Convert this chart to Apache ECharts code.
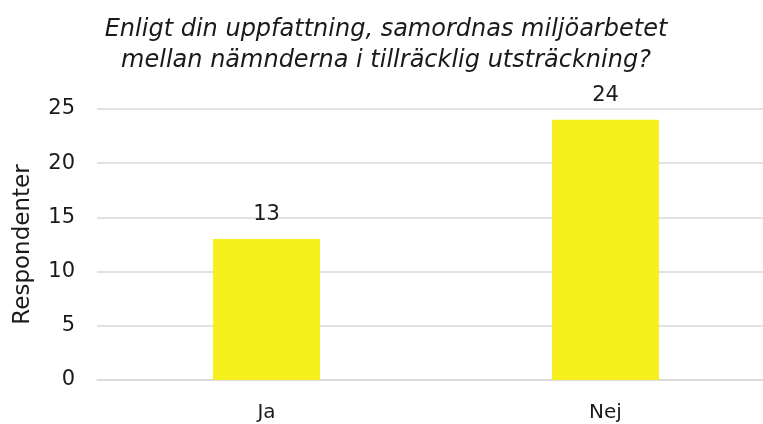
<!DOCTYPE html>
<html>
<head>
<meta charset="utf-8">
<script src="https://cdn.jsdelivr.net/npm/echarts@6/dist/echarts.min.js"></script>
<style>
  html, body { margin: 0; padding: 0; background: #ffffff; overflow: hidden; }
  #chart { width: 775px; height: 424px; }
</style>
</head>
<body>
<div id="chart"></div>
<script>
var categories = ['Ja', 'Nej'];
var values = [13, 24];
var yTicks = [0, 5, 10, 15, 20, 25];

var titleText = 'Enligt din uppfattning, samordnas miljöarbetet\nmellan nämnderna i tillräcklig utsträckning?';

// plot area runs past the right edge of the window, like the source image
var chart = echarts.init(document.getElementById('chart'), null, { renderer: 'canvas' });

var option = {
    backgroundColor: '#ffffff',
    animation: false,
    title: {
        text: titleText,
        left: 381,
        textAlign: 'center',
        top: 9,
        textStyle: {
            fontFamily: 'DejaVu Sans',
            fontStyle: 'italic',
            fontWeight: 'normal',
            fontSize: 24,
            lineHeight: 31,
            color: '#1a1a1a'
        }
    },
    grid: {
        left: 97,
        top: 109,
        right: 0,
        bottom: 44,
        containLabel: false
    },
    xAxis: {
        type: 'category',
        data: categories,
        axisLine: { show: true, lineStyle: { color: '#d9d9d9', width: 1.5 } },
        axisTick: { show: false },
        axisLabel: {
            fontFamily: 'DejaVu Sans',
            fontSize: 20,
            color: '#1a1a1a',
            margin: 23
        }
    },
    yAxis: {
        type: 'value',
        min: yTicks[0],
        max: yTicks[yTicks.length - 1],
        interval: 5,
        name: 'Respondenter',
        nameLocation: 'middle',
        nameGap: 62,
        nameRotate: 90,
        nameTextStyle: {
            fontFamily: 'DejaVu Sans',
            fontSize: 23,
            color: '#1a1a1a'
        },
        axisLine: { show: false },
        axisTick: { show: false },
        splitLine: { lineStyle: { color: '#d9d9d9', width: 1.5 } },
        axisLabel: {
            fontFamily: 'DejaVu Sans',
            fontSize: 21,
            color: '#1a1a1a',
            margin: 22
        }
    },
    series: [
        {
            type: 'bar',
            data: values,
            barWidth: 107,
            itemStyle: { color: '#f6f01e' },
            label: {
                show: true,
                position: 'top',
                distance: 14,
                fontFamily: 'DejaVu Sans',
                fontSize: 21,
                color: '#1a1a1a'
            }
        }
    ]
};

chart.setOption(option);
</script>
</body>
</html>
